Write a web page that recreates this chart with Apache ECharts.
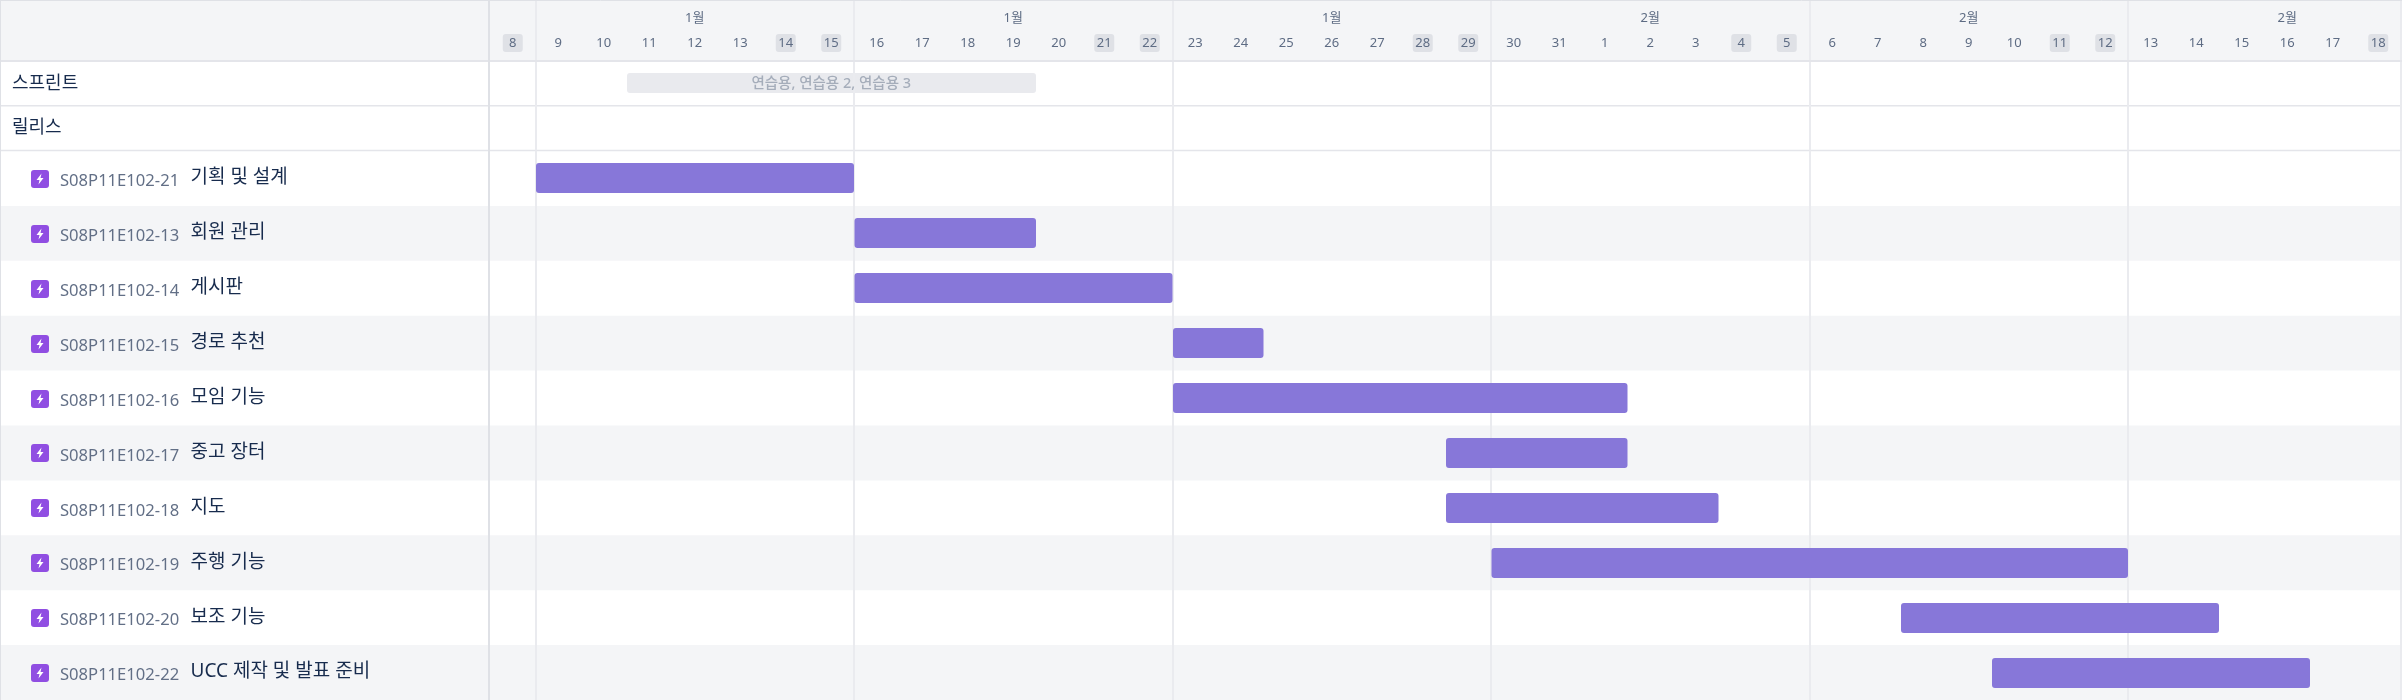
<!DOCTYPE html>
<html><head><meta charset="utf-8">
<style>html,body{margin:0;padding:0;background:#fff}#c{width:2402px;height:700px}</style>
<script src="https://cdn.jsdelivr.net/npm/echarts@6/dist/echarts.min.js"></script>
</head><body><div id="c"></div>
<script>
const dayCategories = ['1/8','1/9','1/10','1/11','1/12','1/13','1/14','1/15','1/16','1/17','1/18','1/19','1/20','1/21','1/22','1/23','1/24','1/25','1/26','1/27','1/28','1/29','1/30','1/31','2/1','2/2','2/3','2/4','2/5','2/6','2/7','2/8','2/9','2/10','2/11','2/12','2/13','2/14','2/15','2/16','2/17','2/18'];
const weekendDays = ['1/8','1/14','1/15','1/21','1/22','1/28','1/29','2/4','2/5','2/11','2/12','2/18'];
const topRows = ['스프린트','릴리스'];
const issueKeys = ['S08P11E102-21','S08P11E102-13','S08P11E102-14','S08P11E102-15','S08P11E102-16','S08P11E102-17','S08P11E102-18','S08P11E102-19','S08P11E102-20','S08P11E102-22'];
const issueNames = ['기획 및 설계','회원 관리','게시판','경로 추천','모임 기능','중고 장터','지도','주행 기능','보조 기능','UCC 제작 및 발표 준비'];
const issueStarts = ['1/9','1/16','1/16','1/23','1/23','1/29','1/29','1/30','2/8','2/10'];
const issueEnds = ['1/15','1/19','1/22','1/24','2/1','2/1','2/3','2/12','2/14','2/16'];
const sprintLabel = '연습용, 연습용 2, 연습용 3';
const sprintStart = '1/11';
const sprintEnd = '1/19';

const FONT = '"Noto Sans","Noto Sans CJK KR",sans-serif';
const LINE = '#dfe1e6', HLINE = '#e4e5ea', VLINE = '#eaebef', ZEBRA = '#f4f5f7';
const idx = d => dayCategories.indexOf(d);
const gridLeft = 490, gridWidth = 1911;
const weekLine = { show: true, interval: i => i % 7 === 1, lineStyle: { color: VLINE, width: 2 } };
const hiddenX = g => ({ type: 'category', gridIndex: g, data: dayCategories, position: 'top',
  axisLine: { show: false }, axisTick: { show: false }, axisLabel: { show: false }, splitLine: weekLine });

function barRender(h, color, radius) {
  return (params, api) => {
    const bw = api.size([1, 0])[0];
    const a = api.coord([api.value(0), api.value(2)]);
    const b = api.coord([api.value(1), api.value(2)]);
    const x = a[0] - bw / 2 + 0.5, w = b[0] + bw / 2 - x;
    const top = Math.round(a[1] - h / 2);
    return { type: 'rect', shape: { x, y: top, width: w, height: h, r: radius }, style: { fill: color } };
  };
}
function barLabelRender(text) {
  return (params, api) => {
    const bw = api.size([1, 0])[0];
    const a = api.coord([api.value(0), api.value(2)]);
    const b = api.coord([api.value(1), api.value(2)]);
    return { type: 'text', style: { x: (a[0] + b[0]) / 2, y: a[1], text, align: 'center', verticalAlign: 'middle',
      font: '500 14.5px ' + FONT, fill: '#a5adba' } };
  };
}
function bandRender(fill, lineColor) {
  return (params, api) => {
    const c = api.coord([0, api.value(0)]);
    const hh = api.size([0, 1])[1];
    const W = api.getWidth();
    const children = [];
    if (fill) children.push({ type: 'rect', shape: { x: 0, y: c[1] - hh / 2, width: W, height: hh }, style: { fill } });
    if (lineColor) children.push({ type: 'line', shape: { x1: 0, y1: c[1] + hh / 2, x2: W, y2: c[1] + hh / 2 }, style: { stroke: lineColor, lineWidth: 1.5 } });
    return { type: 'group', children };
  };
}
function iconRender(params, api) {
  const c = api.coord([0, api.value(0)]);
  const x = 31, y = Math.round(c[1] - 8.5);
  return { type: 'group', children: [
    { type: 'rect', shape: { x, y, width: 18, height: 18, r: 3 }, style: { fill: '#904ee2' } },
    { type: 'polygon', shape: { points: [[x+10.5,y+3.5],[x+5.5,y+10],[x+8.5,y+10],[x+7.5,y+14.5],[x+12.5,y+8],[x+9.5,y+8]] }, style: { fill: '#fff' } }
  ] };
}

const chart = echarts.init(document.getElementById('c'), null, { renderer: 'canvas' });
chart.setOption({
  animation: false,
  backgroundColor: '#fff',
  textStyle: { fontFamily: FONT },
  graphic: [
    { type: 'rect', z: -20, shape: { x: 0, y: 0, width: 2402, height: 61 }, style: { fill: ZEBRA } },
    { type: 'line', z: 5, shape: { x1: 0, y1: 61, x2: 2402, y2: 61 }, style: { stroke: HLINE, lineWidth: 2 } },
    { type: 'line', z: 5, shape: { x1: 0, y1: 0.5, x2: 2402, y2: 0.5 }, style: { stroke: LINE, lineWidth: 1 } },
    { type: 'line', z: 5, shape: { x1: 0.5, y1: 0, x2: 0.5, y2: 700 }, style: { stroke: LINE, lineWidth: 1 } },
    { type: 'line', z: 5, shape: { x1: 489, y1: 0, x2: 489, y2: 700 }, style: { stroke: LINE, lineWidth: 2 } }
  ],
  grid: [
    { left: gridLeft, width: gridWidth, top: 0, height: 61 },
    { left: gridLeft, width: gridWidth, top: 61, height: 89.5 },
    { left: gridLeft, width: gridWidth, top: 151, height: 550 }
  ],
  xAxis: [
    { type: 'category', gridIndex: 0, data: dayCategories.map(d => ({
        value: d,
        textStyle: weekendDays.includes(d)
          ? { backgroundColor: '#dfe1e6', borderRadius: 3, width: 20, height: 18, lineHeight: 18, align: 'center' }
          : { width: 20, height: 18, lineHeight: 18, align: 'center' }
      })),
      position: 'bottom', axisLine: { show: false }, axisTick: { show: false }, splitLine: weekLine,
      axisLabel: { inside: true, interval: 0, margin: 9, color: '#5e6c84', fontSize: 13, fontFamily: FONT,
        formatter: v => v.split('/')[1] } },
    { type: 'category', gridIndex: 0, data: dayCategories, position: 'bottom',
      axisLine: { show: false }, axisTick: { show: false }, splitLine: { show: false },
      axisLabel: { inside: true, margin: 36, color: '#5e6c84', fontSize: 13, fontFamily: FONT,
        interval: i => i % 7 === 4, formatter: v => v.split('/')[0] + '월' } },
    hiddenX(1),
    hiddenX(2)
  ],
  yAxis: [
    { type: 'value', gridIndex: 0, show: false, min: 0, max: 1 },
    { type: 'category', gridIndex: 1, inverse: true, data: topRows, axisLine: { show: false }, axisTick: { show: false },
      axisLabel: { align: 'left', margin: gridLeft - 12, fontSize: 18, color: '#172b4d', fontFamily: FONT, padding: [2, 0, 0, 0] } },
    { type: 'category', gridIndex: 2, inverse: true, data: issueKeys, axisLine: { show: false }, axisTick: { show: false },
      axisLabel: { align: 'left', margin: gridLeft - 60, interval: 0,
        formatter: (v, i) => '{key|' + v + '}{name|' + issueNames[i] + '}',
        rich: {
          key: { fontSize: 16.6, color: '#626f86', width: 130.5, fontFamily: FONT, padding: [6, 0, 0, 0] },
          name: { fontSize: 19, color: '#172b4d', fontFamily: FONT, padding: [0, 0, 1, 0] }
        } } }
  ],
  series: [
    { type: 'custom', name: 'rowLines', xAxisIndex: 2, yAxisIndex: 1, z: -10, silent: true,
      data: topRows.map((r, i) => [i]), encode: { y: 0 }, renderItem: bandRender(null, HLINE) },
    { type: 'custom', name: 'zebra', xAxisIndex: 3, yAxisIndex: 2, z: -10, silent: true,
      data: issueKeys.map((k, i) => [i]).filter(r => r[0] % 2 === 1), encode: { y: 0 }, renderItem: bandRender(ZEBRA, null) },
    { type: 'custom', name: 'sprint', xAxisIndex: 2, yAxisIndex: 1, z: -5, silent: true,
      data: [[idx(sprintStart), idx(sprintEnd), 0]], encode: { x: [0, 1], y: 2 },
      renderItem: barRender(20, '#e9eaee', 3) },
    { type: 'custom', name: 'sprintLabel', xAxisIndex: 2, yAxisIndex: 1, z: 3, silent: true,
      data: [[idx(sprintStart), idx(sprintEnd), 0]], encode: { x: [0, 1], y: 2 },
      renderItem: barLabelRender(sprintLabel) },
    { type: 'custom', name: 'issues', xAxisIndex: 3, yAxisIndex: 2, z: 3, silent: true,
      data: issueKeys.map((k, i) => [idx(issueStarts[i]), idx(issueEnds[i]), i]), encode: { x: [0, 1], y: 2 },
      renderItem: barRender(30, '#8777d9', 3) },
    { type: 'custom', name: 'icons', xAxisIndex: 3, yAxisIndex: 2, z: 3, silent: true,
      data: issueKeys.map((k, i) => [i]), encode: { y: 0 }, renderItem: iconRender }
  ]
});
</script></body></html>
